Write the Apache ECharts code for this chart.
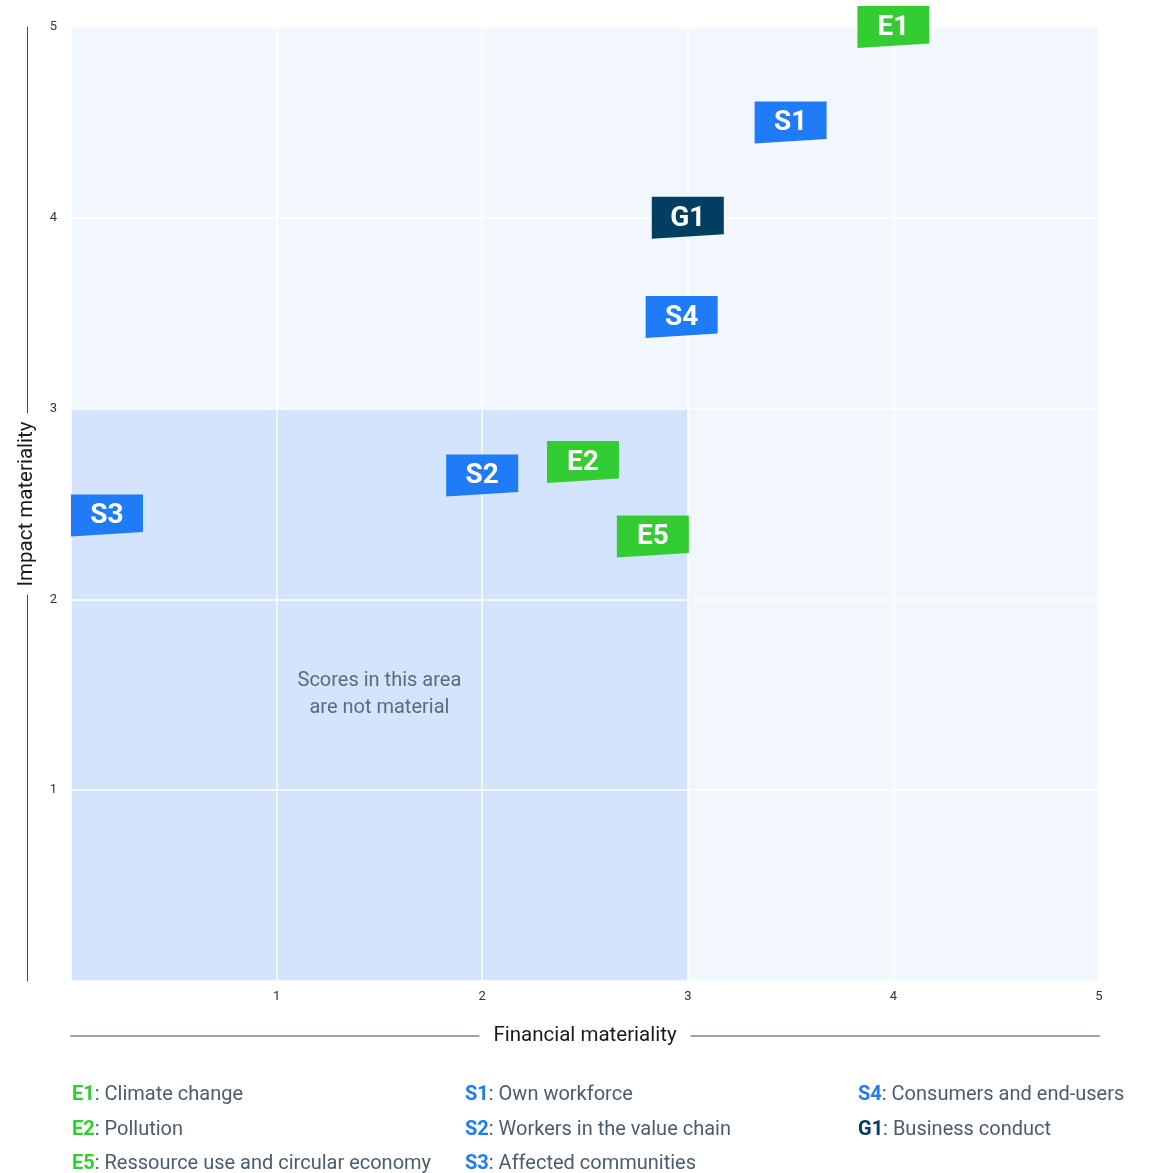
<!DOCTYPE html>
<html><head><meta charset="utf-8">
<script src="https://cdn.jsdelivr.net/npm/echarts@6/dist/echarts.min.js"></script>
<style>html,body{margin:0;padding:0;background:#fff}#c{width:1149px;height:1173px}</style>
</head><body><div id="c"></div>
<script>
// ---- data ----
const codes   = ['E1','S1','G1','S4','S2','E2','E5','S3'];
const finVals = [4.0, 3.5, 3.0, 2.97, 2.0, 2.49, 2.83, 0.175];
const impVals = [5.0, 4.5, 4.0, 3.48, 2.65, 2.72, 2.33, 2.44];
const groupColors = {E:'#33cc33', S:'#1f7bf6', G:'#023d62'};
const tickValues = [1,2,3,4,5];
const legendCols = [
  [['E1','Climate change'],['E2','Pollution'],['E5','Ressource use and circular economy']],
  [['S1','Own workforce'],['S2','Workers in the value chain'],['S3','Affected communities']],
  [['S4','Consumers and end-users'],['G1','Business conduct']]
];
const areaNote = 'Scores in this area\nare not material';
const xName = 'Financial materiality';
const yName = 'Impact materiality';

const FONT = 'Roboto';
const colorOf = c => groupColors[c[0]];

const points = codes.map((c,i)=>[finVals[i], impVals[i], c]);

const legendX = [72, 465, 858];
const legendY = [1093, 1128, 1162];
const graphics = [];
legendCols.forEach((col, ci) => {
  col.forEach((item, ri) => {
    graphics.push({
      type:'text', left: legendX[ci], top: legendY[ri]-8,
      style:{
        text: '{c|'+item[0]+'}{d|: '+item[1]+'}',
        rich:{
          c:{fill: colorOf(item[0]), fontWeight:'bold', fontSize:20, fontFamily:FONT},
          d:{fill:'#4b5c6d', fontSize:20, fontFamily:FONT}
        }
      }
    });
  });
});

const lineAxisBase = {type:'value', min:0, max:5, axisTick:{show:false}, axisLabel:{show:false}, splitLine:{show:false}};

const chart = echarts.init(document.getElementById('c'));
chart.setOption({
  backgroundColor:'#fff',
  animation:false,
  grid:{left:71, right:50, top:27, bottom:192, show:true, backgroundColor:'#f2f7fe', borderWidth:0,
        containLabel:false, outerBoundsMode:'none'},
  xAxis:[{
    type:'value', min:0, max:5, interval:1, z:3,
    axisLine:{show:false}, axisTick:{show:false},
    splitLine:{show:true, lineStyle:{color:'#ffffff', width:1.5}},
    axisLabel:{margin:9, color:'#333', fontSize:13, fontFamily:FONT,
      formatter:v=> tickValues.includes(v) ? String(v) : ''}
  }, Object.assign({}, lineAxisBase, {
    position:'bottom', offset:55, z:1,
    axisLine:{show:true, onZero:false, lineStyle:{color:'#9aa5ae', width:2}}
  }), Object.assign({}, lineAxisBase, {
    position:'bottom', offset:55, z:4,
    axisLine:{show:false, onZero:false},
    name:xName, nameLocation:'middle', nameGap:0,
    nameTextStyle:{color:'#1a1a1a', fontSize:20.5, fontFamily:FONT, backgroundColor:'#fff', padding:[4,14],
      verticalAlign:'middle'}
  })],
  yAxis:[{
    type:'value', min:0, max:5, interval:1, z:3,
    axisLine:{show:false}, axisTick:{show:false},
    splitLine:{show:true, lineStyle:{color:'#ffffff', width:1.5}},
    axisLabel:{margin:14, color:'#333', fontSize:13, fontFamily:FONT,
      formatter:v=> tickValues.includes(v) ? String(v) : ''}
  }, Object.assign({}, lineAxisBase, {
    position:'left', offset:44, z:1,
    axisLine:{show:true, onZero:false, lineStyle:{color:'#3a4f5e', width:1}}
  }), Object.assign({}, lineAxisBase, {
    position:'left', offset:44, z:4,
    axisLine:{show:false, onZero:false},
    name:yName, nameLocation:'middle', nameGap:0, nameRotate:90,
    nameTextStyle:{color:'#1a1a1a', fontSize:20.5, fontFamily:FONT, backgroundColor:'#fff', padding:[4,8],
      verticalAlign:'middle'}
  })],
  series:[{
    type:'scatter', data:[], z:1, xAxisIndex:0, yAxisIndex:0,
    markArea:{silent:true, itemStyle:{color:'#d4e4fc'},
      data:[[{xAxis:0,yAxis:0},{xAxis:3,yAxis:3}]]}
  },{
    type:'custom', z:5, xAxisIndex:0, yAxisIndex:0,
    data:[[1.5,1.5]],
    renderItem:(params, api)=>{
      const p = api.coord([api.value(0), api.value(1)]);
      return {type:'text', x:p[0], y:p[1], style:{text:areaNote, align:'center', verticalAlign:'middle',
        fill:'#5a6b7b', fontSize:20, lineHeight:27, fontFamily:FONT}};
    }
  },{
    type:'custom', z:10, clip:false, xAxisIndex:0, yAxisIndex:0,
    data:points,
    encode:{x:0, y:1},
    renderItem:(params, api)=>{
      const p = api.coord([api.value(0), api.value(1)]);
      const code = points[params.dataIndex][2];
      return {type:'group', x:p[0], y:p[1], children:[
        {type:'polygon', shape:{points:[[-36,-21],[36,-21],[36,16.5],[-36,21]]},
          style:{fill:colorOf(code)}},
        {type:'text', x:0, y:1, style:{text:code, align:'center', verticalAlign:'middle',
          fill:'#fff', fontSize:28, fontWeight:'bold', fontFamily:FONT}}
      ]};
    }
  }],
  graphic: graphics
});
</script></body></html>
